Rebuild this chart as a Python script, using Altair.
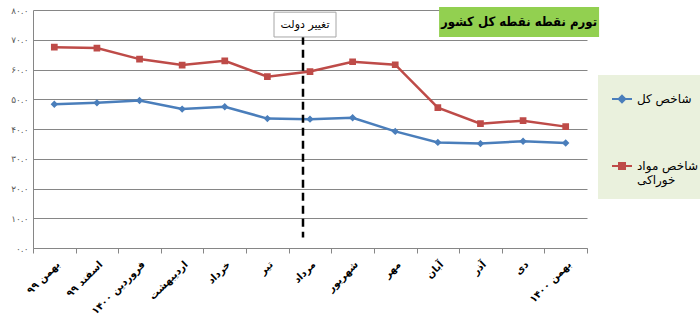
import altair as alt
import pandas as pd

# ---- data ----
months = ["بهمن ۹۹", "اسفند ۹۹", "فروردین ۱۴۰۰", "اردیبهشت", "خرداد", "تیر", "مرداد",
          "شهریور", "مهر", "آبان", "آذر", "دی", "بهمن ۱۴۰۰"]
total_index = [48.3, 48.8, 49.6, 46.7, 47.5, 43.5, 43.3, 43.8, 39.2, 35.5, 35.1, 35.9, 35.3]
food_index = [67.5, 67.2, 63.5, 61.5, 62.9, 57.6, 59.3, 62.6, 61.6, 47.2, 41.8, 42.8, 40.8]
series_names = ["شاخص کل", "شاخص مواد خوراکی"]
y_ticks = [0, 10, 20, 30, 40, 50, 60, 70, 80]
y_tick_labels = ["۰.۰", "۱۰.۰", "۲۰.۰", "۳۰.۰", "۴۰.۰", "۵۰.۰", "۶۰.۰", "۷۰.۰", "۸۰.۰"]
title_text = ["تورم نقطه نقطه کل کشور"]
event_month = ["مرداد"]
event_label = ["تغییر دولت"]
title_month = ["دی"]

colors = ["#4A7EBB", "#BE4B48"]
FONT = "DejaVu Sans"

rows = []
for m, v in zip(months, total_index):
    rows.append({"month": m, "series": series_names[0], "value": v})
for m, v in zip(months, food_index):
    rows.append({"month": m, "series": series_names[1], "value": v})
df = pd.DataFrame(rows)

# marker paths (line stubs only visible in the legend where stroke is on)
diamond_path = "M-1,0H-0.33M0.33,0H1M0,-0.33L0.33,0L0,0.33L-0.33,0Z"
square_path = "M-1,0H-0.3M0.3,0H1M-0.3,-0.3H0.3V0.3H-0.3Z"

x_axis = alt.Axis(title=None, labelAngle=-45, labelFont=FONT, labelFontSize=10,
                  labelFontWeight="bold", labelColor="black", labelPadding=6,
                  tickBand="extent", tickSize=5, tickColor="#868686",
                  domainColor="#868686", grid=False)
x_scale = alt.Scale(type="band", domain=months, paddingInner=0, paddingOuter=0)

label_expr = "[" + ",".join("'%s'" % s for s in y_tick_labels) + "][round(datum.value/10)]"
y_axis = alt.Axis(title=None, values=y_ticks, labelExpr=label_expr,
                  labelFont=FONT, labelFontSize=9, labelColor="#595959",
                  labelPadding=5, ticks=False, domainColor="#868686",
                  gridColor="#868686", gridWidth=1)
y_scale = alt.Scale(domain=[0, 80], nice=False)


def X():
    return alt.X("month:N", sort=months, scale=x_scale, axis=x_axis)


def Y(field):
    return alt.Y(field, scale=y_scale, axis=y_axis)


color_scale = alt.Scale(domain=series_names, range=colors)

line_layers = []
for name, col in zip(series_names, colors):
    line_layers.append(
        alt.Chart(df).transform_filter(alt.datum.series == name)
        .mark_line(strokeWidth=2.5, color=col)
        .encode(x=X(), y=Y("value:Q"))
    )

legend = alt.Legend(title=None, orient="none", legendX=565, legendY=65,
                    fillColor="#EAF1DD", padding=13, rowPadding=48,
                    symbolSize=400, symbolStrokeWidth=2,
                    labelFont=FONT, labelFontSize=12, labelColor="black", labelOffset=4,
                    labelExpr="datum.label == 'شاخص مواد خوراکی' ? ['شاخص مواد', 'خوراکی'] : datum.label")

points = alt.Chart(df).mark_point(filled=True, size=500, opacity=1).encode(
    x=X(),
    y=Y("value:Q"),
    color=alt.Color("series:N", scale=color_scale, legend=legend),
    stroke=alt.Stroke("series:N", scale=color_scale, legend=legend),
    shape=alt.Shape("series:N", scale=alt.Scale(domain=series_names,
                                                range=[diamond_path, square_path]),
                    legend=legend),
    strokeWidth=alt.value(0),
)

ev_df = pd.DataFrame({"month": event_month, "label": event_label,
                      "top": [71], "bottom": [3.5], "box_y": [75.1]})

event_rule = alt.Chart(ev_df).mark_rule(color="black", strokeWidth=2.5,
                                        strokeDash=[8, 5], xOffset=-7).encode(
    x=X(), y=Y("top:Q"), y2="bottom:Q")

event_box = alt.Chart(ev_df).mark_point(
    shape="M-1,-0.4H1V0.4H-1Z", size=3844, filled=True, fill="white",
    stroke="#A6A6A6", strokeWidth=1, opacity=1, xOffset=-5).encode(
    x=X(), y=Y("box_y:Q"))

event_text = alt.Chart(ev_df).mark_text(font=FONT, fontSize=11, color="black",
                                        xOffset=-5).encode(
    x=X(), y=Y("box_y:Q"), text="label:N")

title_df = pd.DataFrame({"month": title_month, "box_y": [76.0], "title": title_text})
title_box = alt.Chart(title_df).mark_point(
    shape="M-1,-0.1875H1V0.1875H-1Z", size=25600, filled=True, fill="#92D050",
    strokeWidth=0, opacity=1, xOffset=-4).encode(
    x=X(), y=Y("box_y:Q"))

title_label = alt.Chart(title_df).mark_text(
    font="DejaVu Sans Condensed", fontSize=13, fontWeight="bold", color="black",
    xOffset=-4, baseline="middle", align="center").encode(
    x=X(), y=Y("box_y:Q"), text="title:N")

chart = alt.layer(*line_layers, points, event_rule, event_box, event_text,
                  title_box, title_label).properties(
    width=554, height=238,
    autosize=alt.AutoSizeParams(type="none"),
    padding={"left": 33, "top": 10, "right": 113, "bottom": 68},
    background="white",
).configure_view(strokeWidth=0)

chart.save("out.html", embed_options={"renderer": "svg", "actions": False})
